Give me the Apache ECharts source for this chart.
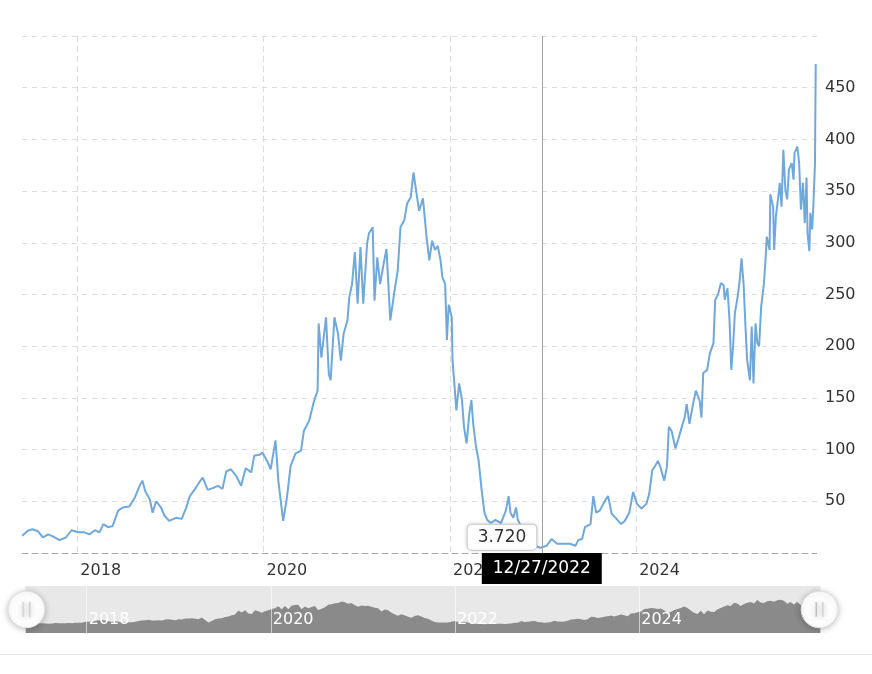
<!DOCTYPE html>
<html>
<head>
<meta charset="utf-8">
<script src="https://cdn.jsdelivr.net/npm/echarts@6/dist/echarts.min.js"></script>
<style>
html,body{margin:0;padding:0;background:#fff;}
#chart{width:872px;height:674px;}
</style>
</head>
<body>
<div id="chart"></div>
<script>
// ---- data ----
const dates = [
 '2017-05-30','2017-06-21','2017-07-09','2017-07-31','2017-08-19','2017-09-09','2017-09-27','2017-10-23','2017-11-17','2017-12-09',
 '2018-01-04','2018-01-29','2018-02-17','2018-03-11','2018-03-29','2018-04-13','2018-05-01','2018-05-19','2018-06-10','2018-06-28',
 '2018-07-24','2018-08-15','2018-09-02','2018-09-13','2018-09-24','2018-10-12','2018-10-23','2018-11-06','2018-11-25','2018-12-09','2018-12-27',
 '2019-01-22','2019-02-14','2019-03-04','2019-03-18','2019-04-05','2019-04-23','2019-05-08','2019-05-27','2019-06-18','2019-07-06',
 '2019-07-24','2019-08-08','2019-08-26','2019-09-17','2019-10-05','2019-10-23','2019-11-14','2019-11-25','2019-12-16','2019-12-28',
 '2020-01-15','2020-01-29','2020-02-17','2020-02-28','2020-03-18','2020-04-02','2020-04-16','2020-05-05','2020-05-27','2020-06-07',
 '2020-06-28','2020-07-17','2020-07-31','2020-08-04','2020-08-15','2020-09-02','2020-09-13','2020-09-20','2020-10-05','2020-10-19',
 '2020-10-30','2020-11-10','2020-11-25','2020-12-02','2020-12-13','2020-12-24',
 '2021-01-04','2021-01-15','2021-01-26','2021-02-10','2021-02-17','2021-03-04','2021-03-11','2021-03-22','2021-04-02','2021-04-16',
 '2021-04-27','2021-05-12','2021-05-27','2021-06-10','2021-06-21','2021-07-06','2021-07-17','2021-07-31','2021-08-11','2021-08-19',
 '2021-09-02','2021-09-17','2021-10-01','2021-10-12','2021-10-23','2021-11-03','2021-11-14','2021-11-25','2021-12-02','2021-12-13',
 '2021-12-20','2021-12-27',
 '2022-01-08','2022-01-11','2022-01-19','2022-01-26','2022-02-06','2022-02-17','2022-02-25','2022-03-07','2022-03-18','2022-03-26',
 '2022-04-02','2022-04-13','2022-04-23','2022-05-05','2022-05-16','2022-05-27','2022-06-10','2022-06-28','2022-07-20','2022-08-08',
 '2022-08-19','2022-08-26','2022-09-06','2022-09-17','2022-09-24','2022-10-15','2022-11-10','2022-12-02','2022-12-20','2022-12-27',
 '2023-01-15','2023-02-03','2023-02-25','2023-03-22','2023-04-16','2023-05-08','2023-05-19','2023-06-03','2023-06-14','2023-07-06',
 '2023-07-17','2023-07-28','2023-08-11','2023-09-02','2023-09-13','2023-09-27','2023-10-16','2023-11-03','2023-11-17','2023-12-05','2023-12-20',
 '2024-01-04','2024-01-22','2024-02-10','2024-02-21','2024-03-04','2024-03-15','2024-03-26','2024-04-05','2024-04-20','2024-05-01',
 '2024-05-08','2024-05-19','2024-06-03','2024-06-14','2024-06-28','2024-07-09','2024-07-17','2024-07-28','2024-08-11','2024-08-22',
 '2024-09-06','2024-09-13','2024-09-20','2024-10-05','2024-10-16','2024-10-30','2024-11-06','2024-11-17','2024-11-28','2024-12-09',
 '2024-12-13','2024-12-24',
 '2025-01-01','2025-01-08','2025-01-15','2025-01-22','2025-02-02','2025-02-10','2025-02-17','2025-02-25','2025-03-04','2025-03-11',
 '2025-03-22','2025-03-29','2025-04-05','2025-04-13','2025-04-20','2025-04-27','2025-05-05','2025-05-16','2025-05-23','2025-05-27',
 '2025-06-07','2025-06-10','2025-06-21','2025-06-25','2025-07-02','2025-07-13','2025-07-17','2025-07-24','2025-07-31','2025-08-08',
 '2025-08-15','2025-08-22','2025-09-02','2025-09-09','2025-09-13','2025-09-24','2025-10-01','2025-10-08','2025-10-16','2025-10-23',
 '2025-10-30','2025-11-03','2025-11-10','2025-11-14','2025-11-21','2025-11-25','2025-12-02','2025-12-05'
];
const prices = [
 16.7,21.5,23,21,15,18,16,12.5,15,22,
 20,20,18,22,20,28,25,26,41,44,
 45,54,65,70,60,52,39,50,44,36,31,
 34,33,44,55,61,68,73,61,63,65,
 62,79,81,74,65,82,78,94,95,97,
 89,81,109,70,31,54,84,96,99,118,
 128,147,157,222,189,228,173,167,228,212,
 186,212,225,247,260,291,
 241,296,241,299,309,315,244,286,260,280,
 294,225,251,273,315,322,338,344,368,354,
 331,343,306,283,302,293,297,283,267,260,
 206,240,
 228,186,161,138,164,148,122,106,135,148,
 125,103,90,61,39,32,29,32,29,41,
 55,39,34,44,32,22,12,7.4,5,3.72,
 7,13.5,9,9,9,7,12.5,13.5,25,28,
 55,39,41,51,55,38,33,28,31,39,59,
 47.5,43,47.5,57,80,84,89,83,70,84,
 122,118,101,110,122,131,144,125,144,157,
 147,131,174,177,193,203,245,250,261,259,
 245,256,
 225,177,200,232,248,264,285,261,222,187,
 167,219,164,222,203,200,238,261,287,306,
 293,347,335,293,326,348,358,335,390,351,
 342,371,377,361,387,393,377,332,358,319,
 363,309,292,329,313,332,376,473
];
const yearTicks = ['2018-01-01','2020-01-01','2022-01-01','2024-01-01'];
const axisStart = '2017-05-29';
const axisEnd = '2025-12-10';
const pointerDate = '2022-12-27';
const pointerValue = 3.72;

function ts(s){ const p = s.split('-').map(Number); return new Date(p[0], p[1]-1, p[2]).getTime(); }
function pad(n){ return (n < 10 ? '0' : '') + n; }

const seriesData = dates.map((d, i) => [ts(d), prices[i]]);
const tickValues = yearTicks.map(ts);
const FONT = 'DejaVu Sans';

const handlePath = 'path://M0,-18A18,18,0,1,1,0,18A18,18,0,1,1,0,-18Z' +
  'M-4,-7L-4,7L-2.6,7L-2.6,-7Z M2.6,-7L2.6,7L4,7L4,-7Z';

const chart = echarts.init(document.getElementById('chart'), null, {renderer: 'canvas'});
chart.setOption({
  animation: false,
  backgroundColor: '#fff',
  axisPointer: { triggerOn: 'none' },
  grid: [
    { left: 22, right: 55, top: 36, bottom: 121 },
    { left: 32, right: 54, top: 586, height: 47 }
  ],
  xAxis: [{
    type: 'value',
    gridIndex: 0,
    scale: true,
    min: ts(axisStart),
    max: ts(axisEnd),
    axisLine: { show: true, onZero: false, lineStyle: { color: '#a8a8a8', type: [6, 4], width: 1 } },
    axisTick: { show: false, customValues: tickValues },
    axisLabel: {
      customValues: tickValues,
      formatter: v => String(new Date(v).getFullYear()),
      fontFamily: FONT, fontSize: 16, color: '#333', margin: 10,
      align: 'left', padding: [0, 0, 0, 3]
    },
    splitLine: { show: true, lineStyle: { color: '#dcdcdc', type: [6, 4], width: 1 } },
    axisPointer: {
      show: true,
      type: 'line',
      snap: false,
      value: ts(pointerDate),
      status: 'show',
      lineStyle: { color: '#a0a0a0', width: 1, type: 'solid' },
      label: {
        show: true,
        backgroundColor: '#000',
        color: '#fff',
        fontFamily: FONT,
        fontSize: 17,
        padding: [7, 11],
        margin: 0,
        borderRadius: 0,
        shadowBlur: 0,
        formatter: p => {
          const d = new Date(p.value);
          return pad(d.getMonth() + 1) + '/' + pad(d.getDate()) + '/' + d.getFullYear();
        }
      },
      handle: { show: false }
    }
  }, {
    type: 'value',
    gridIndex: 1,
    scale: true,
    z: 10,
    min: ts(axisStart),
    max: ts(axisEnd),
    axisLine: { show: false },
    axisTick: { show: false, customValues: tickValues },
    axisLabel: {
      inside: true,
      customValues: tickValues,
      formatter: v => String(new Date(v).getFullYear()),
      fontFamily: FONT, fontSize: 16, color: '#fff', margin: 5,
      align: 'left', padding: [0, 0, 0, 2]
    },
    splitLine: { show: true, lineStyle: { color: 'rgba(255,255,255,0.6)', width: 1 } },
    axisPointer: { show: false }
  }],
  yAxis: [{
    type: 'value',
    gridIndex: 0,
    position: 'right',
    min: 0,
    max: 500,
    interval: 50,
    axisLine: { show: false },
    axisTick: { show: false },
    axisLabel: {
      showMinLabel: false, showMaxLabel: false,
      fontFamily: FONT, fontSize: 16, color: '#333', margin: 8
    },
    splitLine: { show: true, lineStyle: { color: '#dcdcdc', type: [5, 5], width: 1 } },
    axisPointer: { show: false }
  }, {
    type: 'value', gridIndex: 1, show: false, min: 0, max: 1
  }],
  dataZoom: [{
    type: 'slider',
    xAxisIndex: 0,
    start: 0, end: 100,
    left: 23, right: 54, top: 586, height: 47,
    backgroundColor: '#e8e8e8',
    borderColor: 'transparent',
    fillerColor: 'rgba(0,0,0,0)',
    showDetail: false,
    showDataShadow: true,
    brushSelect: false,
    moveHandleSize: 0,
    dataBackground: {
      lineStyle: { opacity: 0 },
      areaStyle: { color: '#8a8a8a', opacity: 1 }
    },
    selectedDataBackground: {
      lineStyle: { opacity: 0 },
      areaStyle: { color: '#8a8a8a', opacity: 1 }
    },
    handleIcon: handlePath,
    handleSize: '78%',
    handleStyle: {
      color: '#fff', borderColor: '#e0e0e0', borderWidth: 1,
      shadowBlur: 6, shadowColor: 'rgba(0,0,0,0.25)', shadowOffsetY: 1
    },
    emphasis: { handleStyle: { color: '#fff', borderColor: '#e0e0e0' } }
  }],
  series: [{
    type: 'line',
    xAxisIndex: 0,
    yAxisIndex: 0,
    data: seriesData,
    showSymbol: false,
    symbol: 'none',
    lineStyle: { color: '#6fa8dc', width: 2 },
    itemStyle: { color: '#6fa8dc' },
    markPoint: {
      silent: true,
      symbol: 'rect',
      symbolSize: 1,
      itemStyle: { color: 'rgba(0,0,0,0)' },
      data: [{
        coord: [ts(pointerDate), pointerValue],
        value: pointerValue,
        label: {
          show: true,
          position: 'left',
          distance: 5,
          offset: [0, -12],
          formatter: p => Number(p.value).toFixed(3),
          fontFamily: FONT,
          fontSize: 17,
          color: '#333',
          backgroundColor: '#fff',
          borderColor: '#cfcfcf',
          borderWidth: 1,
          borderRadius: 4,
          padding: [4, 10],
          shadowBlur: 4,
          shadowColor: 'rgba(0,0,0,0.12)'
        }
      }]
    }
  }],
  graphic: [{
    type: 'line',
    shape: { x1: 0, y1: 654.5, x2: 872, y2: 654.5 },
    style: { stroke: '#e6e6e6', lineWidth: 1 },
    silent: true
  }]
});
</script>
</body>
</html>
